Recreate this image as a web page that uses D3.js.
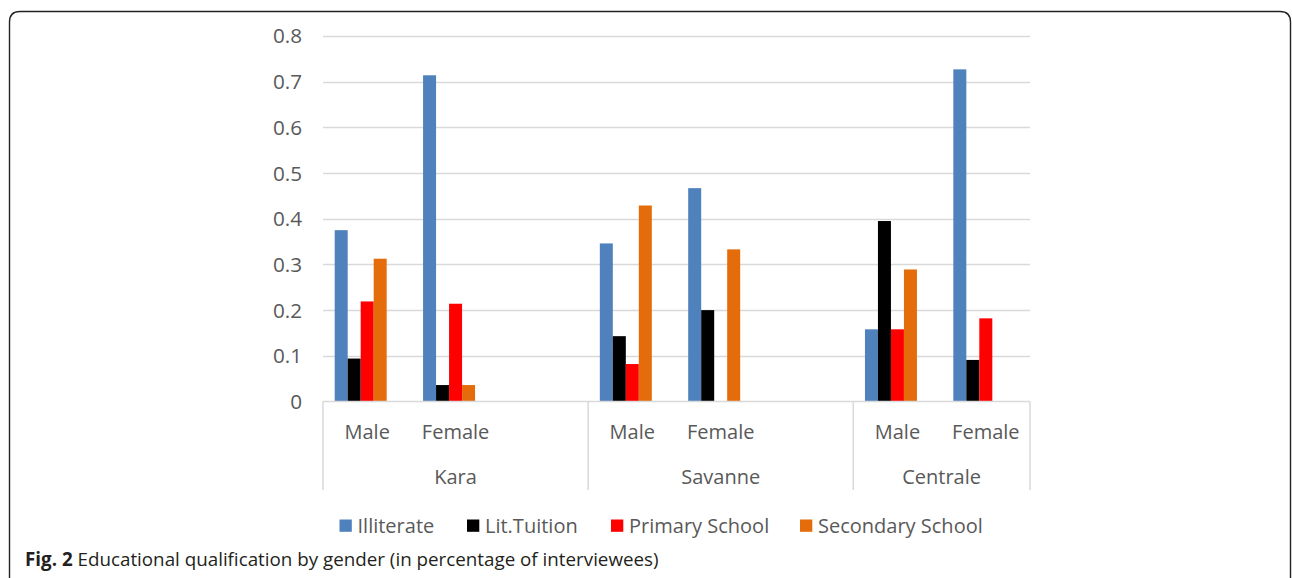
<!DOCTYPE html>
<html><head><meta charset="utf-8">
<script src="https://cdn.jsdelivr.net/npm/d3@7"></script>
<style>
html,body{margin:0;padding:0;background:#fff;}
svg{display:block;}
</style></head>
<body>
<svg id="chart" width="1292" height="578"></svg>
<script>
const regions = ["Kara", "Savanne", "Centrale"];
const genders = ["Male", "Female"];
const slots = ["Kara|Male", "Kara|Female", "Kara|gap", "Savanne|Male", "Savanne|Female", "Savanne|gap", "Centrale|Male", "Centrale|Female"];
const series = ["Illiterate", "Lit.Tuition", "Primary School", "Secondary School"];
const seriesColors = ["#4f81bd", "#000000", "#ff0000", "#e46c0a"];
const yTicks = [0, 0.1, 0.2, 0.3, 0.4, 0.5, 0.6, 0.7, 0.8];
const illiterate = [0.375, 0.714, 0.346, 0.467, 0.158, 0.727];
const litTuition = [0.094, 0.036, 0.143, 0.200, 0.395, 0.091];
const primarySchool = [0.219, 0.214, 0.082, 0, 0.158, 0.182];
const secondarySchool = [0.3125, 0.036, 0.429, 0.333, 0.289, 0];
const dataSlots = ["Kara|Male", "Kara|Female", "Savanne|Male", "Savanne|Female", "Centrale|Male", "Centrale|Female"];
const values = [illiterate, litTuition, primarySchool, secondarySchool];

(function () {
const svg = d3.select("#chart");
const font = "'Open Sans', sans-serif";
const textColor = "#595959";

// outer frame
svg.append("path")
  .attr("d", "M9.5,600 L9.5,22 Q9.5,11.5 20,11.5 L1280,11.5 Q1290.5,11.5 1290.5,22 L1290.5,600")
  .attr("fill", "none").attr("stroke", "#222").attr("stroke-width", 1.4);

const pLeft = 323, pRight = 1030, pTop = 36, pBottom = 401.5;
const x0 = d3.scaleBand().domain(slots).range([pLeft, pRight]).padding(0);
const x1 = d3.scaleBand().domain(d3.range(5)).range([0, x0.bandwidth()]).paddingInner(0).paddingOuter(0.9);
const y = d3.scaleLinear().domain([0, 0.8]).range([pBottom, pTop]);

// gridlines
svg.append("g").selectAll("line").data(yTicks.filter(d => d > 0)).join("line")
  .attr("x1", pLeft).attr("x2", pRight)
  .attr("y1", d => Math.round(y(d)) + 0.5).attr("y2", d => Math.round(y(d)) + 0.5)
  .attr("stroke", "#d9d9d9").attr("stroke-width", 1.5);

// y labels
svg.append("g").selectAll("text").data(yTicks).join("text")
  .attr("x", 302).attr("y", d => y(d)).attr("dy", "0.36em")
  .attr("text-anchor", "end").attr("font-family", font).attr("font-size", 20.7)
  .attr("fill", textColor).text(d => d === 0 ? "0" : d3.format(".1f")(d));

// bars
const barG = svg.append("g");
series.forEach((s, si) => {
  barG.append("g").attr("fill", seriesColors[si]).selectAll("rect")
    .data(dataSlots.map((k, i) => ({k, v: values[si][i]})))
    .join("rect")
    .attr("x", d => x0(d.k) + x1(si))
    .attr("width", x1.bandwidth())
    .attr("y", d => y(d.v))
    .attr("height", d => pBottom - y(d.v));
});

// category axis
const axG = svg.append("g").attr("stroke", "#d9d9d9").attr("stroke-width", 1.5);
axG.append("line").attr("x1", pLeft).attr("x2", pRight).attr("y1", pBottom).attr("y2", pBottom);
const dividers = [x0("Kara|Male"), x0("Savanne|Male"), x0("Centrale|Male"), pRight];
axG.selectAll("line.div").data(dividers).join("line").attr("class", "div")
  .attr("x1", d => d).attr("x2", d => d).attr("y1", pBottom).attr("y2", 490);

// gender labels
svg.append("g").selectAll("text").data(dataSlots).join("text")
  .attr("x", d => x0(d) + x0.bandwidth() / 2).attr("y", 438.5)
  .attr("text-anchor", "middle").attr("font-family", font).attr("font-size", 20)
  .attr("fill", textColor).text(d => d.split("|")[1]);

// region labels
const regionStart = [x0("Kara|Male"), x0("Savanne|Male"), x0("Centrale|Male")];
const regionEnd = [x0("Savanne|Male"), x0("Centrale|Male"), pRight];
svg.append("g").selectAll("text").data(regions).join("text")
  .attr("x", (d, i) => (regionStart[i] + regionEnd[i]) / 2).attr("y", 483.5)
  .attr("text-anchor", "middle").attr("font-family", font).attr("font-size", 20)
  .attr("fill", textColor).text(d => d);

// legend
const legendX = [339.5, 467, 611, 800];
const lg = svg.append("g");
series.forEach((s, i) => {
  lg.append("rect").attr("x", legendX[i]).attr("y", 519.5).attr("width", 12.3).attr("height", 12.3).attr("fill", seriesColors[i]);
  lg.append("text").attr("x", legendX[i] + 18).attr("y", 532.5)
    .attr("font-family", font).attr("font-size", 20).attr("fill", textColor).text(s);
});

// caption
const cap = svg.append("text").attr("x", 25).attr("y", 566)
  .attr("font-family", "'Open Sans', sans-serif").attr("font-size", 18.8).attr("fill", "#231f20");
cap.append("tspan").attr("font-weight", "bold").text("Fig. 2");
cap.append("tspan").text(" Educational qualification by gender (in percentage of interviewees)");
})();
</script>
</body></html>
